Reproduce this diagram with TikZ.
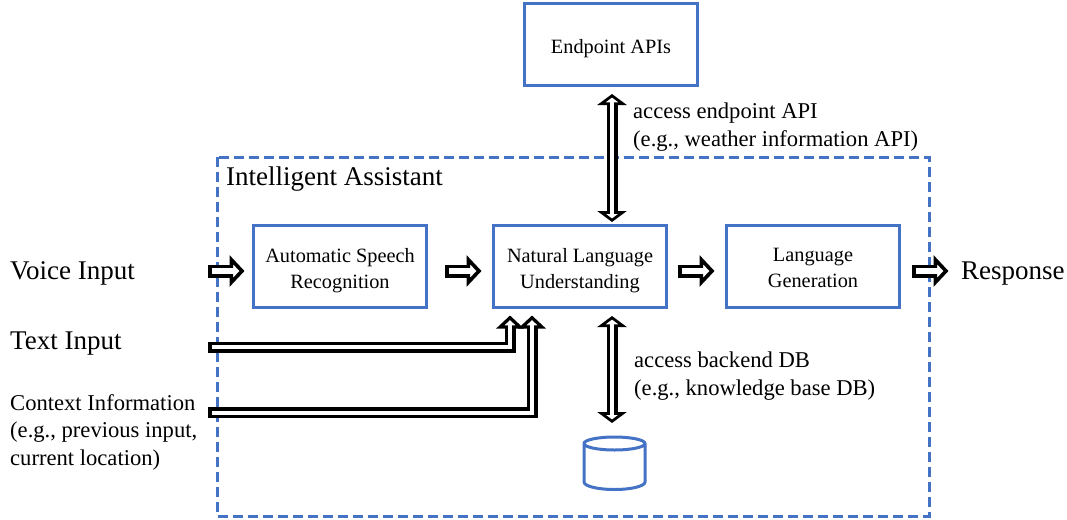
\documentclass[tikz,border=0pt]{standalone}
\usepackage{fontspec}
\setmainfont{Liberation Serif}
\usetikzlibrary{arrows.meta}
\definecolor{boxblue}{HTML}{4472C4}
\newcommand{\pad}{\rule{0pt}{21.5pt}}
\newcommand{\padlow}{\rule[-5pt]{0pt}{5pt}}
\tikzset{
  x=1pt,y=-1pt,
  box/.style={draw=boxblue,line width=3pt,minimum width=173pt,minimum height=82pt,inner sep=0pt,outer sep=0pt,align=center,font=\fontsize{20.3}{26}\selectfont,fill=white},
  big/.style={anchor=base west,inner sep=0pt,font=\fontsize{27}{30}\selectfont},
  small/.style={anchor=base west,inner sep=0pt,align=left,font=\fontsize{22.6}{27.2}\selectfont},
  headA/.tip={Triangle[length=15pt,width=31pt,line width=3.6pt,fill=white]},
  headB/.tip={Triangle[length=13pt,width=27pt,line width=3.4pt,fill=white]},
  headC/.tip={Triangle[length=11pt,width=29pt,line width=3.4pt,fill=white]},
  flat/.style={line width=13pt,black,-{headA},
    postaction={draw=white,line width=6pt,-,shorten <=3.5pt,shorten >=10pt}},
  elbow/.style={line width=11pt,black,-{headB},
    postaction={draw=white,line width=4pt,-,shorten <=3.5pt,shorten >=9pt}},
  twoway/.style={line width=11pt,black,{headC}-{headC},
    postaction={draw=white,line width=3.6pt,-,shorten <=8pt,shorten >=8pt}},
}
\begin{document}
\begin{tikzpicture}
\useasboundingbox (0,0) rectangle (1067,519);
\fill[white] (0,0) rectangle (1067,519);
\draw[boxblue,line width=3pt,dash pattern=on 10pt off 5pt] (217,157) rectangle (929,516);
% boxes
\node[box] (api) at (611,44.5) {\pad Endpoint APIs};
\node[box] (asr) at (340,266.5) {\pad Automatic Speech\\Recognition};
\node[box] (nlu) at (580,266.5) {\pad Natural Language\\Understanding};
\node[box] (lg) at (813,266.5) {\pad Language\\Generation\padlow};
% labels
\node[big] (voice) at (10,279) {Voice Input};
\node[big] (textin) at (10,349) {Text Input};
\node[small] (context) at (10,465) {Context Information\\(e.g., previous input,\\current location)};
\node[big] (ia) at (226,185) {Intelligent Assistant};
\node[big] (resp) at (961,279) {Response};
\node[small] (lapi) at (633,146) {access endpoint API\\(e.g., weather information API)};
\node[small] (ldb) at (634,395) {access backend DB\\(e.g., knowledge base DB)};
% database
\draw[boxblue,line width=3pt,line join=round,fill=white] (584,443.5) arc[start angle=180,end angle=0,x radius=30.5,y radius=6.5] -- (645,482) arc[start angle=0,end angle=180,x radius=30.5,y radius=7.5] -- cycle;
\draw[boxblue,line width=3pt] (584,443.5) arc[start angle=180,end angle=360,x radius=30.5,y radius=6.5];
% anchor points of the connectors
\coordinate (v1) at (208,271);
\coordinate (v2) at (244.5,271);
\coordinate (a1) at (445,271);
\coordinate (a2) at (481.5,271);
\coordinate (n1) at (678,271);
\coordinate (n2) at (714.5,271);
\coordinate (g1) at (912,271);
\coordinate (g2) at (948.5,271);
\coordinate (t1) at (208,347);
\coordinate (t2) at (510,315.5);
\coordinate (c1) at (208,412.5);
\coordinate (c2) at (532,315.5);
\coordinate (up1) at (612,94);
\coordinate (up2) at (612,222);
\coordinate (db1) at (612,316);
\coordinate (db2) at (612,423);
% connectors
\draw[flat] (v1) -- (v2);
\draw[flat] (a1) -- (a2);
\draw[flat] (n1) -- (n2);
\draw[flat] (g1) -- (g2);
\draw[elbow] (t1) -| (t2);
\draw[elbow] (c1) -| (c2);
\draw[twoway] (up1) -- (up2);
\draw[twoway] (db1) -- (db2);
\end{tikzpicture}
\end{document}
